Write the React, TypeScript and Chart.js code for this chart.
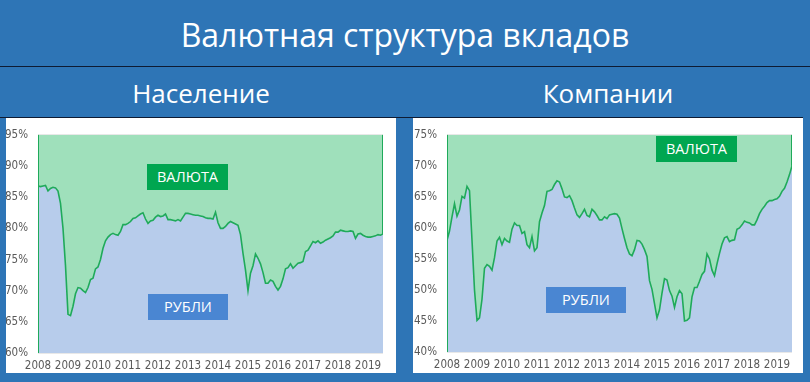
import React, { useEffect, useRef } from "react";
import { Chart, registerables } from "chart.js";

Chart.register(...registerables);

const pageTitle = "Валютная структура вкладов";
const panelTitles = ["Население", "Компании"];
const areaLabels = ["ВАЛЮТА", "РУБЛИ"];

const years = ["2008", "2009", "2010", "2011", "2012", "2013", "2014", "2015", "2016", "2017", "2018", "2019"];

// Share of ruble deposits, monthly from Jan 2008 to Jul 2019 (%)
const householdsRub = [
  86.8, 86.7, 86.8, 86.9, 86.0, 86.4, 86.6, 86.5, 86.0, 84.0, 80.0, 74.0,
  66.2, 66.0, 67.5, 69.5, 70.5, 70.4, 70.0, 69.7, 70.5, 71.8, 72.0, 73.5,
  73.8, 75.0, 76.8, 78.0, 78.6, 79.0, 79.2, 79.0, 78.9, 79.5, 80.6, 80.6,
  80.8, 81.1, 81.6, 81.7, 82.0, 82.3, 82.5, 81.5, 80.8, 81.2, 81.3, 81.8,
  82.1, 81.9, 82.0, 82.3, 81.4, 81.4, 81.3, 81.2, 81.4, 81.2, 81.8, 82.4,
  82.4, 82.3, 82.2, 82.1, 82.1, 82.0, 81.9, 81.7, 81.6, 81.6, 81.5, 82.6,
  80.9, 80.0, 80.0, 80.3, 80.8, 81.1, 80.9, 80.7, 80.5, 79.0, 76.0, 73.3,
  70.0, 72.8, 74.0, 75.9, 75.2, 74.3, 72.9, 71.2, 71.2, 71.7, 71.5, 70.7,
  70.1, 70.7, 71.9, 73.5, 73.7, 74.3, 73.6, 74.0, 74.4, 74.5, 74.7, 76.3,
  76.5, 77.2, 77.9, 77.7, 78.0, 77.6, 77.8, 78.1, 78.3, 78.5, 78.8, 79.4,
  79.4, 79.7, 79.6, 79.5, 79.5, 79.6, 79.5, 78.4, 79.1, 79.2, 78.9, 78.7,
  78.6, 78.6, 78.7, 78.8, 79.0, 78.9, 79.1,
];

const companiesRub = [
  58.0, 59.5, 61.8, 63.9, 61.9, 62.9, 65.1, 64.8, 66.7, 66.0, 58.0, 50.0,
  45.1, 45.5, 48.5, 53.5, 54.1, 53.8, 53.2, 55.2, 57.9, 58.5, 57.3, 58.3,
  57.9, 57.7, 59.8, 60.8, 60.4, 60.4, 59.1, 59.4, 57.3, 56.8, 58.6, 56.3,
  56.8, 61.0, 62.4, 63.6, 65.9, 66.0, 66.2, 67.0, 67.6, 67.4, 66.3, 65.0,
  64.9, 65.2, 64.4, 63.2, 62.1, 61.7, 62.3, 63.0, 62.0, 61.8, 63.0, 62.6,
  62.0, 61.3, 61.3, 61.8, 61.5, 62.1, 62.2, 62.3, 62.2, 61.6, 59.9, 58.3,
  56.8, 55.8, 55.5, 56.5, 58.0, 57.9, 57.4, 56.5, 55.4, 51.5, 50.1, 47.8,
  45.5, 46.8, 49.5, 51.8, 51.6, 49.9, 49.0, 47.2, 48.9, 49.9, 49.4, 45.0,
  45.1, 45.5, 48.9, 50.4, 50.4, 51.4, 52.5, 53.0, 55.8, 55.0, 53.2, 52.3,
  54.2, 55.9, 57.4, 58.4, 58.6, 57.8, 58.0, 58.1, 59.8, 60.0, 60.5, 61.1,
  60.9, 60.8, 60.5, 60.5, 61.3, 62.3, 63.0, 63.5, 64.1, 64.4, 64.4, 64.6,
  64.7, 65.1, 65.9, 66.4, 67.4, 68.6, 70.0,
];

const householdsAxis = { min: 60, max: 95, step: 5 };
const companiesAxis = { min: 40, max: 75, step: 5 };

const BLUE_BG = "#2E75B6";
const LINE_GREEN = "#1FAA5A";
const FILL_GREEN = "#9FE0BB";
const FILL_BLUE = "#B7CCEB";
const TICK_FONT = "'Liberation Sans Narrow', 'DejaVu Sans Condensed', 'Liberation Sans', sans-serif";
const UI_FONT = "'Open Sans', 'Noto Sans', sans-serif";

type PanelProps = {
  rub: number[];
  axis: { min: number; max: number; step: number };
  left: number;
  padRight: number;
  yWidth: number;
  xHeight: number;
  title: string;
  titleX: number;
  valutaBox: { left: number; top: number };
  rubBox: { left: number; top: number };
};

const edgePlugin = {
  id: "edgeLines",
  afterDatasetsDraw(chart: any) {
    const { ctx, chartArea } = chart;
    const meta = chart.getDatasetMeta(0);
    const last = meta.data[meta.data.length - 1];
    ctx.save();
    ctx.strokeStyle = LINE_GREEN;
    ctx.lineWidth = 1;
    ctx.beginPath();
    ctx.moveTo(chartArea.left + 0.5, chartArea.top);
    ctx.lineTo(chartArea.left + 0.5, chartArea.bottom);
    if (last) {
      ctx.moveTo(chartArea.right - 0.5, chartArea.top);
      ctx.lineTo(chartArea.right - 0.5, last.y);
    }
    ctx.stroke();
    ctx.restore();
  },
};

function Panel(p: PanelProps) {
  const ref = useRef<HTMLCanvasElement | null>(null);
  useEffect(() => {
    if (!ref.current) return;
    const rubPts = p.rub.map((v, i) => ({ x: i, y: v }));
    const curPts = p.rub.map((v, i) => ({ x: i, y: 100 - v }));
    const chart = new Chart(ref.current, {
      type: "line",
      data: {
        datasets: [
          {
            label: areaLabels[1],
            data: rubPts,
            borderColor: LINE_GREEN,
            borderWidth: 1.6,
            backgroundColor: FILL_BLUE,
            fill: "origin",
            pointRadius: 0,
            tension: 0,
          },
          {
            label: areaLabels[0],
            data: curPts,
            borderWidth: 0,
            borderColor: "rgba(0,0,0,0)",
            backgroundColor: FILL_GREEN,
            fill: "-1",
            pointRadius: 0,
            tension: 0,
          },
        ],
      },
      options: {
        responsive: false,
        animation: false,
        layout: { padding: { top: 11, right: p.padRight, left: 0, bottom: 0 } },
        plugins: { legend: { display: false }, tooltip: { enabled: false } },
        scales: {
          x: {
            type: "linear",
            min: 0,
            max: p.rub.length - 1,
            z: 1,
            border: { display: false },
            grid: { color: "rgba(0,0,0,0.09)", drawTicks: false },
            ticks: {
              stepSize: 12,
              includeBounds: false,
              autoSkip: false,
              maxRotation: 0,
              padding: 6,
              color: "#595959",
              font: { family: TICK_FONT, size: 11.5 },
              callback: (v: any) => years[Math.round(Number(v) / 12)] ?? "",
            },
            afterFit: (s: any) => {
              s.height = p.xHeight;
            },
          },
          y: {
            stacked: true,
            min: p.axis.min,
            max: p.axis.max,
            z: 1,
            border: { display: false },
            grid: { color: "rgba(0,0,0,0.09)", drawTicks: false },
            ticks: {
              stepSize: p.axis.step,
              padding: 10,
              color: "#595959",
              font: { family: TICK_FONT, size: 11.5 },
              callback: (v: any) => v + "%",
            },
            afterFit: (s: any) => {
              s.width = p.yWidth;
            },
          },
        },
      },
      plugins: [edgePlugin],
    } as any);
    return () => chart.destroy();
  }, []);

  const boxBase: React.CSSProperties = {
    position: "absolute",
    width: 81,
    height: 26,
    color: "#fff",
    fontFamily: UI_FONT,
    fontSize: 14.5,
    display: "flex",
    alignItems: "center",
    justifyContent: "center",
    lineHeight: 1,
  };

  return (
    <>
      <div
        style={{
          position: "absolute",
          left: p.titleX - 150,
          width: 300,
          top: 80,
          textAlign: "center",
          color: "#fff",
          fontFamily: UI_FONT,
          fontSize: 26,
          lineHeight: "26px",
        }}
      >
        {p.title}
      </div>
      <div style={{ position: "absolute", left: p.left, top: 118, width: 390, height: 255, background: "#fff" }}>
        <canvas ref={ref} width={390} height={255} style={{ display: "block" }} />
        <div style={{ ...boxBase, left: p.valutaBox.left, top: p.valutaBox.top, background: "#00A650" }}>
          {areaLabels[0]}
        </div>
        <div style={{ ...boxBase, width: 80, left: p.rubBox.left, top: p.rubBox.top, background: "#4A86D2" }}>
          {areaLabels[1]}
        </div>
      </div>
    </>
  );
}

export default function App() {
  return (
    <div
      style={{
        position: "absolute",
        left: 0,
        top: 0,
        width: 810,
        height: 382,
        background: BLUE_BG,
        overflow: "hidden",
      }}
    >
      <div
        style={{
          position: "absolute",
          left: 0,
          top: 18.5,
          width: 810,
          textAlign: "center",
          color: "#fff",
          fontFamily: UI_FONT,
          fontSize: 32,
          lineHeight: "32px",
        }}
      >
        {pageTitle}
      </div>
      <div style={{ position: "absolute", left: 0, top: 66, width: 810, height: 1, background: "#0E1B33" }} />
      <div style={{ position: "absolute", left: 0, top: 117, width: 803, height: 1, background: "#0E1B33" }} />
      <Panel
        rub={householdsRub}
        axis={householdsAxis}
        left={6}
        padRight={13}
        yWidth={32}
        xHeight={20}
        title={panelTitles[0]}
        titleX={201}
        valutaBox={{ left: 141, top: 46 }}
        rubBox={{ left: 142, top: 176 }}
      />
      <Panel
        rub={companiesRub}
        axis={companiesAxis}
        left={413}
        padRight={11}
        yWidth={34}
        xHeight={21}
        title={panelTitles[1]}
        titleX={608}
        valutaBox={{ left: 243, top: 18 }}
        rubBox={{ left: 133, top: 169 }}
      />
    </div>
  );
}
